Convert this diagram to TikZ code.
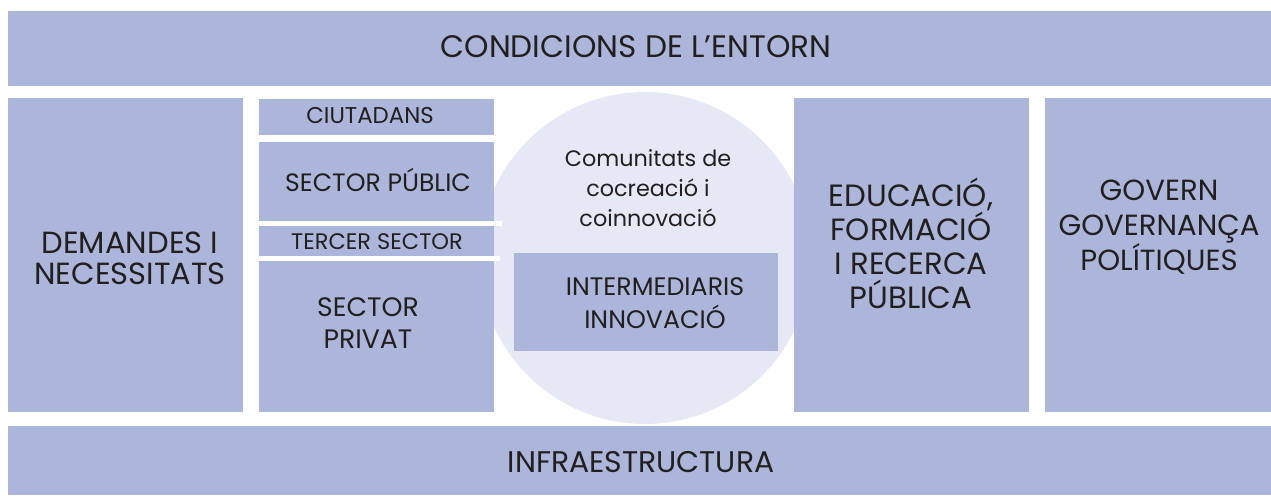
\documentclass[tikz,border=0pt]{standalone}
\usepackage{fontspec}
\setmainfont{Poppins}
\definecolor{boxblue}{HTML}{ACB6DA}
\definecolor{circblue}{HTML}{E6E8F5}
\definecolor{ink}{HTML}{231F20}
\tikzset{
  box/.style={fill=boxblue, inner sep=0pt, anchor=north west},
  gap/.style={fill=white, inner sep=0pt, anchor=north west},
  lbl/.style={text=ink, align=center, inner sep=0pt},
}
\newcommand{\fsz}[2]{\fontsize{#1}{#2}\selectfont}

\begin{document}
\begin{tikzpicture}[x=0.02cm, y=-0.02cm]
  \useasboundingbox (0,0) rectangle (1271,495);
  % community circle, behind the boxes
  \node[circle, fill=circblue, inner sep=0pt, minimum size=6.64cm] (hub) at (645,258) {};
  % top and bottom bands
  \node[box, minimum width=25.26cm, minimum height=1.5cm] (entorn) at (8,11) {};
  \node[box, minimum width=25.26cm, minimum height=1.38cm] (infra) at (8,426) {};
  % columns
  \node[box, minimum width=4.7cm, minimum height=6.28cm] (demandes) at (8,98) {};
  \node[box, minimum width=4.7cm, minimum height=0.72cm] (ciutadans) at (259,99) {};
  \node[box, minimum width=4.7cm, minimum height=1.58cm] (public) at (259,142) {};
  \node[box, minimum width=4.7cm, minimum height=0.6cm] (tercer) at (259,226) {};
  \node[box, minimum width=4.7cm, minimum height=3.02cm] (privat) at (259,261) {};
  \node[gap, minimum width=4.86cm, minimum height=0.1cm] (gapA) at (259,221) {};
  \node[gap, minimum width=4.82cm, minimum height=0.1cm] (gapB) at (259,256) {};
  \node[box, minimum width=5.28cm, minimum height=1.96cm] (interm) at (514,253) {};
  \node[box, minimum width=4.7cm, minimum height=6.28cm] (educacio) at (794,98) {};
  \node[box, minimum width=4.52cm, minimum height=6.28cm] (govern) at (1045,98) {};

  % labels
  \node[lbl, font=\fsz{17.7}{18}] (entornT) at (636,47) {CONDICIONS DE L'ENTORN};
  \node[lbl, font=\fsz{17}{18}] (infraT) at (641,462) {INFRAESTRUCTURA};
  \node[lbl, font=\fsz{17.4}{17.5}] (demandesT) at (130,258) {DEMANDES I\\NECESSITATS};
  \node[lbl, font=\fsz{13}{14}] (ciutadansT) at (370,116) {CIUTADANS};
  \node[lbl, font=\fsz{14.3}{15}] (publicT) at (378,180) {SECTOR PÚBLIC};
  \node[lbl, font=\fsz{12.8}{14}] (tercerT) at (377,242) {TERCER SECTOR};
  \node[lbl, font=\fsz{15.2}{18.7}] (privatT) at (368,323) {SECTOR\\PRIVAT};
  \node[lbl, font=\fsz{12.7}{17}] (hubT) at (648,188) {Comunitats de\\cocreació i\\coinnovació};
  \node[lbl, font=\fsz{14.4}{19}] (intermT) at (655,303) {INTERMEDIARIS\\INNOVACIÓ};
  \node[lbl, font=\fsz{17.5}{19.3}] (educacioT) at (911,243) {EDUCACIÓ,\\FORMACIÓ\\I RECERCA\\PÚBLICA};
  \node[lbl, font=\fsz{16.6}{19.8}] (governT) at (1159,227) {GOVERN\\GOVERNANÇA\\POLÍTIQUES};
\end{tikzpicture}
\end{document}
